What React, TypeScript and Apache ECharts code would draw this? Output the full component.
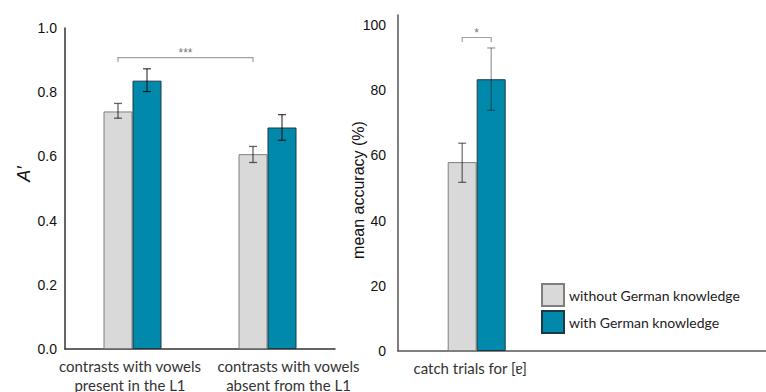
import React, { useEffect, useRef } from "react";
import * as echarts from "echarts";

// Left panel: discrimination sensitivity A′ per contrast type
const contrastCats = ["contrasts with vowels\npresent in the L1", "contrasts with vowels\nabsent from the L1"];
const aWithout = [0.74, 0.607];
const aWith = [0.836, 0.69];
const aWithoutErr = [[0.719, 0.765], [0.581, 0.631]];
const aWithErr = [[0.802, 0.873], [0.65, 0.73]];
const aTicks = [0, 0.2, 0.4, 0.6, 0.8, 1.0];

// Right panel: catch-trial accuracy
const catchCats = ["catch trials for [ɐ]"];
const accWithout = [57.9];
const accWith = [83.3];
const accWithoutErr = [[51.7, 63.7]];
const accWithErr = [[73.8, 92.9]];
const accTicks = [0, 20, 40, 60, 80, 100];

const groupNames = ["without German knowledge", "with German knowledge"];

// significance brackets: [category, side, category, side, y], side -1 = grey bar, +1 = teal bar
const leftBracket = [[0, -1, 1, -1, 0.908]];
const leftStars = ["***"];
const rightBracket = [[0, -1, 0, 1, 96.1]];
const rightStars = ["*"];

const GREY = "#d9d9d9";
const TEAL = "#0089ab";
const BAR_W = 29;

const labelFont = "Lato, 'Open Sans', sans-serif";
const tickFont = "'Liberation Sans', Arial, sans-serif";

function errorSeries(
  name: string,
  gridIdx: number,
  side: number,
  ranges: number[][],
  color: string
) {
  return {
    type: "custom",
    name: name + " err",
    xAxisIndex: gridIdx,
    yAxisIndex: gridIdx,
    silent: true,
    z: 5,
    data: ranges.map((r, i) => [i, r[0], r[1]]),
    renderItem: (_params: any, api: any) => {
      const lo = api.coord([api.value(0), api.value(1)]);
      const hi = api.coord([api.value(0), api.value(2)]);
      const x = lo[0] + (side * BAR_W) / 2;
      const cap = 4;
      const style = { stroke: color, lineWidth: 1.3 };
      return {
        type: "group",
        children: [
          { type: "line", shape: { x1: x, y1: lo[1], x2: x, y2: hi[1] }, style },
          { type: "line", shape: { x1: x - cap, y1: lo[1], x2: x + cap, y2: lo[1] }, style },
          { type: "line", shape: { x1: x - cap, y1: hi[1], x2: x + cap, y2: hi[1] }, style },
        ],
      };
    },
  };
}

function bracketSeries(gridIdx: number, rows: number[][], stars: string[]) {
  return {
    type: "custom",
    xAxisIndex: gridIdx,
    yAxisIndex: gridIdx,
    silent: true,
    z: 6,
    data: rows,
    renderItem: (params: any, api: any) => {
      const p1 = api.coord([api.value(0), api.value(4)]);
      const p2 = api.coord([api.value(2), api.value(4)]);
      const x1 = p1[0] + (api.value(1) * BAR_W) / 2;
      const x2 = p2[0] + (api.value(3) * BAR_W) / 2;
      const y = p1[1];
      const drop = 4.5;
      const style = { stroke: "#a0a0a0", lineWidth: 1.2, fill: "none" };
      return {
        type: "group",
        children: [
          {
            type: "polyline",
            shape: { points: [[x1, y + drop], [x1, y], [x2, y], [x2, y + drop]] },
            style,
          },
          {
            type: "text",
            x: (x1 + x2) / 2,
            y: y + 1,
            style: {
              text: stars[params.dataIndex],
              fill: "#7a7a7a",
              font: "12px " + tickFont,
              align: "center",
              verticalAlign: "bottom",
            },
          },
        ],
      };
    },
  };
}

export default function App() {
  const ref = useRef<HTMLDivElement>(null);

  useEffect(() => {
    if (!ref.current) return;
    const chart = echarts.init(ref.current, null, { renderer: "svg" });

    const greyBar = {
      color: GREY,
      borderColor: "#7f7f7f",
      borderWidth: 1,
    };
    const tealBar = {
      color: TEAL,
      borderColor: "#1d3946",
      borderWidth: 1,
    };

    chart.setOption({
      animation: false,
      backgroundColor: "#ffffff",
      textStyle: { fontFamily: labelFont },
      grid: [
        { left: 65, top: 28, width: 270, height: 321 },
        { left: 398, top: 15, width: 157.4, height: 336 },
        { left: 398, top: 15, right: 0, height: 336 },
      ],
      legend: {
        orient: "vertical",
        left: 541,
        top: 283,
        padding: 0,
        itemWidth: 22,
        itemHeight: 22,
        itemGap: 3,
        icon: "rect",
        data: groupNames,
        selectedMode: false,
        textStyle: { fontFamily: labelFont, fontSize: 14, color: "#222" },
      },
      xAxis: [
        {
          type: "category",
          gridIndex: 0,
          data: contrastCats,
          axisLine: { lineStyle: { color: "#333", width: 1.5 } },
          axisTick: { show: false },
          axisLabel: {
            margin: 7,
            interval: 0,
            formatter: (v: string, i: number) =>
              v
                .split("\n")
                .map((l) => `{${i === 0 ? "a" : "b"}|${l}}`)
                .join("\n"),
            rich: {
              a: { fontFamily: labelFont, fontSize: 15, color: "#333", lineHeight: 19, padding: [0, 5, 0, 0] },
              b: { fontFamily: labelFont, fontSize: 15, color: "#333", lineHeight: 19, padding: [0, 0, 0, 42] },
            },
          },
        },
        {
          type: "category",
          gridIndex: 1,
          data: catchCats,
          axisLine: { show: false },
          axisTick: { show: false },
          axisLabel: {
            margin: 7,
            formatter: (v: string) => `{a|${v}}`,
            rich: {
              a: { fontFamily: labelFont, fontSize: 15, color: "#333", lineHeight: 19, padding: [0, 13, 0, 0] },
            },
          },
        },
        {
          type: "value",
          gridIndex: 2,
          min: 0,
          max: 1,
          axisLine: { show: true, onZero: false, lineStyle: { color: "#555", width: 1.5 } },
          axisTick: { show: false },
          axisLabel: { show: false },
          splitLine: { show: false },
        },
      ],
      yAxis: [
        {
          type: "value",
          gridIndex: 0,
          min: aTicks[0],
          max: aTicks[aTicks.length - 1],
          interval: 0.2,
          axisLine: { show: true, lineStyle: { color: "#333", width: 1.5 } },
          axisTick: { show: false },
          splitLine: { show: false },
          axisLabel: {
            margin: 8,
            fontFamily: tickFont,
            fontSize: 14,
            color: "#111",
            formatter: (v: number) => v.toFixed(1),
          },
        },
        {
          type: "value",
          gridIndex: 1,
          min: accTicks[0],
          max: 103,
          interval: 20,
          axisLine: { show: true, lineStyle: { color: "#555", width: 1.5 } },
          axisTick: { show: false },
          splitLine: { show: false },
          axisLabel: {
            margin: 12,
            fontFamily: tickFont,
            fontSize: 14,
            color: "#111",
            showMaxLabel: false,
            formatter: (v: number) => (accTicks.includes(v) ? String(v) : ""),
          },
        },
        {
          type: "value",
          gridIndex: 2,
          min: 0,
          max: 1,
          show: false,
        },
      ],
      series: [
        {
          type: "bar",
          name: groupNames[0],
          xAxisIndex: 0,
          yAxisIndex: 0,
          data: aWithout,
          barWidth: BAR_W,
          barGap: "0%",
          itemStyle: greyBar,
        },
        {
          type: "bar",
          name: groupNames[1],
          xAxisIndex: 0,
          yAxisIndex: 0,
          data: aWith,
          barWidth: BAR_W,
          barGap: "0%",
          itemStyle: tealBar,
        },
        {
          type: "bar",
          name: groupNames[0],
          xAxisIndex: 1,
          yAxisIndex: 1,
          data: accWithout,
          barWidth: BAR_W,
          barGap: "0%",
          itemStyle: greyBar,
        },
        {
          type: "bar",
          name: groupNames[1],
          xAxisIndex: 1,
          yAxisIndex: 1,
          data: accWith,
          barWidth: BAR_W,
          barGap: "0%",
          itemStyle: tealBar,
        },
        errorSeries(groupNames[0], 0, -1, aWithoutErr, "rgba(0,0,0,0.6)"),
        errorSeries(groupNames[1], 0, 1, aWithErr, "rgba(0,0,0,0.7)"),
        errorSeries(groupNames[0], 1, -1, accWithoutErr, "rgba(0,0,0,0.55)"),
        errorSeries(groupNames[1], 1, 1, accWithErr, "rgba(0,0,0,0.38)"),
        bracketSeries(0, leftBracket, leftStars),
        bracketSeries(1, rightBracket, rightStars),
      ],
      graphic: [
        {
          type: "text",
          x: 24,
          y: 174,
          rotation: Math.PI / 2,
          style: {
            text: "A′",
            font: "italic 18px " + tickFont,
            fill: "#111",
            align: "center",
            verticalAlign: "middle",
          },
        },
        {
          type: "text",
          x: 358,
          y: 190,
          rotation: Math.PI / 2,
          style: {
            text: "mean accuracy (%)",
            font: "16px " + tickFont,
            fill: "#111",
            align: "center",
            verticalAlign: "middle",
          },
        },
      ],
    });

    return () => chart.dispose();
  }, []);

  return (
    <div
      ref={ref}
      style={{ position: "absolute", left: 0, top: 0, width: 766, height: 392 }}
    />
  );
}
